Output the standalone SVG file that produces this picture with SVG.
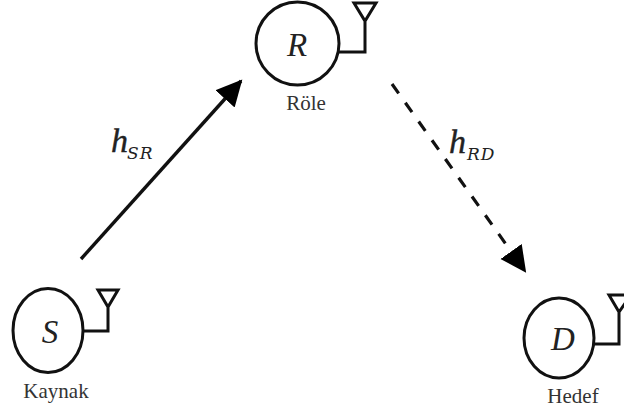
<svg xmlns="http://www.w3.org/2000/svg" width="624" height="414" viewBox="0 0 624 414">
<style>
.n{fill:#fff;stroke:#111;stroke-width:3}
.a{fill:none;stroke:#111;stroke-width:3}
.l{font-family:"Liberation Serif",serif;font-size:21px;fill:#333;text-anchor:middle}
.m{font-family:"Liberation Serif",serif;font-style:italic;fill:#222}
.v{font-size:33px;text-anchor:middle}
.h{font-size:34px;stroke:#222;stroke-width:.4}
.s{font-family:"DejaVu Serif",serif;font-style:italic;fill:#222;font-size:17px;letter-spacing:1px}
</style>
<defs>
<marker id="ah" markerUnits="userSpaceOnUse" markerWidth="30" markerHeight="30" refX="24" refY="13" orient="auto"><path d="M0 0L26 13L0 26Z" fill="#000"/></marker>
</defs>
<rect width="624" height="414" fill="#fff"/>
<g id="connectors">
<path d="M81 259L241 81" fill="none" stroke="#111" stroke-width="3.4" marker-end="url(#ah)"/>
<path d="M392 84L525 271" fill="none" stroke="#111" stroke-width="3.2" stroke-dasharray="11.500 11.500" marker-end="url(#ah)"/>
</g>
<g id="node-R">
<ellipse class="n" cx="297.500" cy="43.500" rx="41.500" ry="41.500"/>
<path class="a" d="M339 52H365V21M354 3H376L365 21Z"/>
<text class="m v" x="297" y="56">R</text>
<text class="l" x="306" y="110">Röle</text>
</g>
<g id="node-S">
<ellipse class="n" cx="48" cy="330.500" rx="35" ry="42"/>
<path class="a" d="M83 331H108V307M98 290H118L108 307Z"/>
<text class="m v" x="50" y="343">S</text>
<text class="l" x="56" y="398">Kaynak</text>
</g>
<g id="node-D">
<ellipse class="n" cx="559" cy="338" rx="35" ry="40"/>
<path class="a" d="M594 344H619V312M609 295H631L619 312Z"/>
<text class="m v" x="563" y="350">D</text>
<text class="l" x="573" y="403">Hedef</text>
</g>
<g id="labels">
<text class="m h" x="111" y="152">h</text>
<text class="s" x="127" y="159">SR</text>
<text class="m h" x="449" y="153">h</text>
<text class="s" x="467" y="160">RD</text>
</g>
</svg>
